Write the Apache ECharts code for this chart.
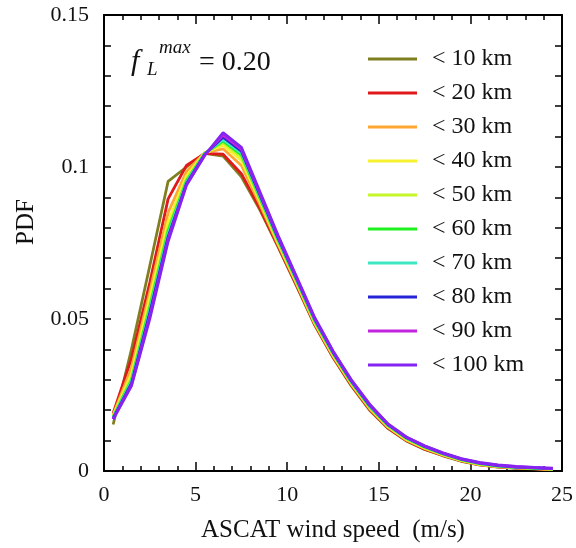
<!DOCTYPE html>
<html>
<head>
<meta charset="utf-8">
<script src="https://cdn.jsdelivr.net/npm/echarts@6/dist/echarts.min.js"></script>
<style>html,body{margin:0;padding:0;background:#fff;}#c{width:576px;height:548px;}</style>
</head>
<body>
<div id="c"></div>
<script>
// Bin centres of ASCAT wind speed (m/s)
const windSpeed = [0.5,1.5,2.5,3.5,4.5,5.5,6.5,7.5,8.5,9.5,10.5,11.5,12.5,13.5,14.5,15.5,16.5,17.5,18.5,19.5,20.5,21.5,22.5,23.5,24.5];

const seriesNames = ['< 10 km','< 20 km','< 30 km','< 40 km','< 50 km','< 60 km','< 70 km','< 80 km','< 90 km','< 100 km'];
const seriesColors = ['#7f7f22','#e01a1a','#ffa733','#f7f230','#c6f52a','#1ff01f','#3fe8c4','#2424d6','#c224de','#8424f2'];

const pdf10  = [0.0153,0.040,0.0675,0.0953,0.100,0.1045,0.1036,0.0968,0.086,0.0737,0.061,0.048,0.0373,0.028,0.020,0.014,0.0099,0.0071,0.005,0.0032,0.002,0.0013,0.0009,0.0007,0.0005];
const pdf20  = [0.019,0.037,0.062,0.0895,0.1005,0.1045,0.1042,0.0978,0.0865,0.074,0.0612,0.0482,0.0375,0.0282,0.0202,0.0141,0.010,0.0072,0.0051,0.0033,0.002,0.0014,0.001,0.0007,0.0005];
const pdf30  = [0.0185,0.034,0.059,0.085,0.0985,0.1047,0.106,0.1005,0.0878,0.0745,0.0617,0.0485,0.0378,0.0285,0.0205,0.0144,0.0102,0.0074,0.0052,0.0034,0.0021,0.0014,0.001,0.0008,0.0005];
const pdf40  = [0.0182,0.032,0.057,0.082,0.097,0.1047,0.1072,0.1022,0.0888,0.075,0.0621,0.0488,0.0381,0.0288,0.0208,0.0146,0.0104,0.0076,0.0054,0.0035,0.0022,0.0015,0.0011,0.0008,0.0006];
const pdf50  = [0.018,0.031,0.055,0.080,0.096,0.1046,0.108,0.1032,0.0895,0.0755,0.0625,0.0491,0.0384,0.029,0.021,0.0148,0.0106,0.0077,0.0055,0.0036,0.0023,0.0016,0.0011,0.0009,0.0006];
const pdf60  = [0.0178,0.030,0.054,0.079,0.0955,0.1045,0.1085,0.104,0.090,0.0759,0.0628,0.0494,0.0387,0.0292,0.0212,0.015,0.0108,0.0079,0.0056,0.0037,0.0024,0.0016,0.0012,0.0009,0.0007];
const pdf70  = [0.0176,0.0295,0.053,0.078,0.095,0.1044,0.109,0.1046,0.0905,0.0763,0.0631,0.0497,0.0389,0.0294,0.0214,0.0151,0.0109,0.008,0.0057,0.0038,0.0025,0.0017,0.0012,0.001,0.0007];
const pdf80  = [0.0174,0.0288,0.052,0.077,0.0945,0.1042,0.1098,0.1052,0.091,0.0767,0.0634,0.050,0.0391,0.0296,0.0216,0.0153,0.011,0.0081,0.0058,0.0039,0.0026,0.0018,0.0013,0.001,0.0008];
const pdf90  = [0.0172,0.0283,0.051,0.0763,0.0942,0.104,0.1105,0.1058,0.0915,0.0771,0.0637,0.0502,0.0393,0.0298,0.0218,0.0154,0.0111,0.0082,0.0059,0.004,0.0027,0.0019,0.0014,0.0011,0.0008];
const pdf100 = [0.017,0.028,0.050,0.0755,0.094,0.1038,0.1113,0.1065,0.092,0.0775,0.064,0.0505,0.0395,0.030,0.022,0.0155,0.0112,0.0083,0.006,0.0041,0.0028,0.002,0.0015,0.0012,0.0009];

const xTicks = [0,5,10,15,20,25];
const yTicks = [0,0.05,0.1,0.15];

const allPdf = [pdf10,pdf20,pdf30,pdf40,pdf50,pdf60,pdf70,pdf80,pdf90,pdf100];
const FONT = 'Liberation Serif';

const chart = echarts.init(document.getElementById('c'), null, {renderer:'canvas'});

const series = allPdf.map((arr, i) => ({
  name: seriesNames[i],
  type: 'line',
  xAxisIndex: 0, yAxisIndex: 0,
  data: windSpeed.map((x, j) => [x, arr[j]]),
  symbol: 'none',
  smooth: false,
  lineStyle: {color: seriesColors[i], width: 2.8},
  itemStyle: {color: seriesColors[i]},
  z: 2 + i
}));

const baseX = {
  type: 'value', min: xTicks[0], max: xTicks[xTicks.length-1], interval: 5,
  splitLine: {show:false},
  axisLine: {show:true, onZero:false, lineStyle:{color:'#000', width:2}},
  axisTick: {show:true, inside:true, length:9, lineStyle:{color:'#000', width:1.5}},
  minorTick: {show:true, splitNumber:5, length:5, lineStyle:{color:'#000', width:1.5}},
  minorSplitLine: {show:false}
};
const baseY = {
  type: 'value', min: yTicks[0], max: yTicks[yTicks.length-1], interval: 0.05,
  splitLine: {show:false},
  axisLine: {show:true, onZero:false, lineStyle:{color:'#000', width:2}},
  axisTick: {show:true, inside:true, length:7, lineStyle:{color:'#000', width:1.5}},
  minorTick: {show:true, splitNumber:5, length:7, lineStyle:{color:'#000', width:1.5}},
  minorSplitLine: {show:false}
};

chart.setOption({
  animation: false,
  backgroundColor: '#fff',
  grid: {left:104, right:13, top:15, bottom:73, containLabel:false},
  xAxis: [
    Object.assign({}, baseX, {
      position:'bottom',
      name:'ASCAT wind speed  (m/s)', nameLocation:'middle', nameGap:47,
      nameTextStyle:{fontFamily:FONT, fontSize:25, color:'#111'},
      axisLabel:{show:true, margin:13, fontFamily:FONT, fontSize:22, color:'#111'}
    }),
    Object.assign({}, baseX, {position:'top', axisLabel:{show:false}})
  ],
  yAxis: [
    Object.assign({}, baseY, {
      position:'left',
      axisLabel:{show:true, margin:15, fontFamily:FONT, fontSize:22, color:'#111'}
    }),
    Object.assign({}, baseY, {position:'right', axisLabel:{show:false}})
  ],
  legend: {
    orient:'vertical', left:363, top:42,
    itemWidth:49, itemHeight:24, itemGap:10,
    icon: 'path://M0,11 L49,11 L49,13.8 L0,13.8 Z',
    textStyle:{fontFamily:FONT, fontSize:24, color:'#111', lineHeight:24, padding:[0,0,0,10]},
    data: seriesNames
  },
  graphic: [
    {type:'text', x:26, y:222, rotation:Math.PI/2,
     style:{text:'PDF', fontFamily:FONT, fontSize:25, fill:'#111', align:'center', verticalAlign:'middle'}},
    {type:'text', x:131, y:62.5,
     style:{text:'f', fontFamily:FONT, fontStyle:'italic', fontSize:30, fill:'#111', align:'left', verticalAlign:'middle'}},
    {type:'text', x:147, y:69.5,
     style:{text:'L', fontFamily:FONT, fontStyle:'italic', fontSize:19, fill:'#111', align:'left', verticalAlign:'middle'}},
    {type:'text', x:159, y:47.5,
     style:{text:'max', fontFamily:FONT, fontStyle:'italic', fontSize:19, fill:'#111', align:'left', verticalAlign:'middle'}},
    {type:'text', x:199, y:62.5,
     style:{text:'= 0.20', fontFamily:FONT, fontSize:28, fill:'#111', align:'left', verticalAlign:'middle'}}
  ],
  series: series
});
</script>
</body>
</html>
